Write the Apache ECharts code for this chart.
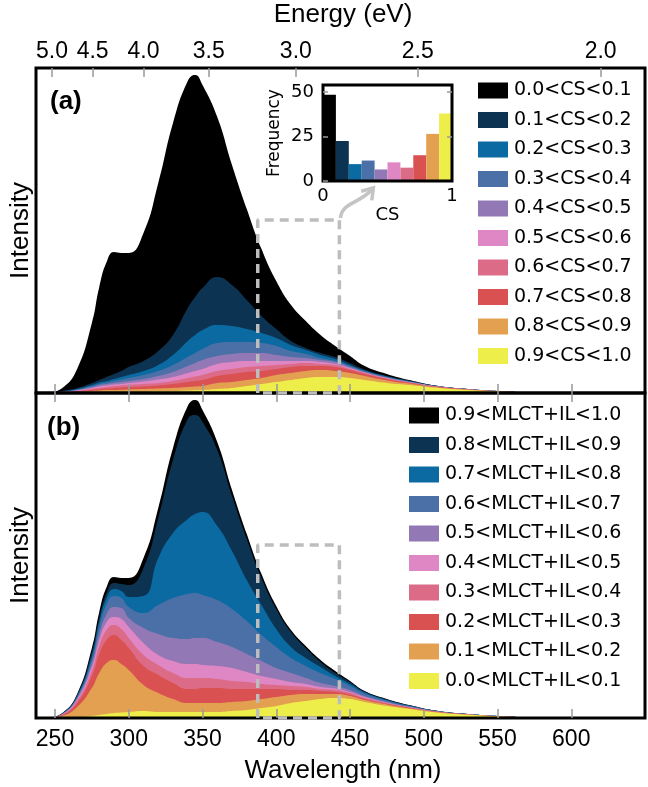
<!DOCTYPE html>
<html><head><meta charset="utf-8">
<script src="https://cdn.jsdelivr.net/npm/echarts@6/dist/echarts.min.js"></script>
<style>html,body{margin:0;padding:0;background:#fff}#c{width:648px;height:787px}</style>
</head><body><div id="c"></div>
<script>
// ---------------- data ----------------
const wavelengths = [245,255,265,275,280,285,290,295,300,310,320,330,340,345,350,360,370,380,390,400,410,420,430,440,450,460,475,490,510,530,550,575,600];

// Panel (a): upper boundary of each stacked band
const aTop00 = [0,5,24,70,106,131,141,140,140,160,210,270,312,318,308,276,228,184,144,112,88,72,58,47,37,27,19,13,7,4,2,0.5,0];
const aTop01 = [0,2,5,10,13,16,19,22,26,32,42,58,85,96,105,116,108,93,77,64,52,45,40,36,30,23.5,17,12.5,6.9,3.9,1.98,0.48,0];
const aTop02 = [0,1.6,4,8,10.5,12,14,16,18,22,28,38,52,58,63,68,67,64,60,55,48,43,38,34,28,22.5,16.5,12,6.7,3.85,1.96,0.47,0];
const aTop03 = [0,1.4,3.5,7,9,10.5,12,13.5,15,18,22,28,36,40,44,50,51,51,50,47,42,39,35,32,27,22,16,11.6,6.6,3.8,1.94,0.46,0];
const aTop04 = [0,1.2,3,6,8,9,10,11,12,14,17,21,27,30,33,37,39,40,40,38,36,35,33,31,26,21,15.5,11.3,6.5,3.75,1.92,0.45,0];
const aTop05 = [0,1,2.5,5,6.5,7.5,8.5,9,10,11.5,13.5,16,20,22,24,29,31,32,32,32,32,32,31,29,25,20.5,15,11,6.4,3.7,1.9,0.44,0];
const aTop06 = [0,0.8,2,4,5,6,7,7.5,8,9,10,12,15,16.5,18,22,24,26,27,28,29,30,29,28,24,20,14.5,10.7,6.2,3.6,1.85,0.43,0];
const aTop07 = [0,0.6,1.5,3,4,4.5,5,5.5,6,6.5,7.5,9,11,12,13,17,19,21,22,24,26,27,27,26,23,19,14,10.3,6,3.5,1.8,0.42,0];
const aTop08 = [0,0.4,1,2,2.5,3,3,3.2,3.5,4,4.5,5,6,6.5,7,10,11,13,15,18,20,22,23,22,20,17,12.5,9.5,5.6,3.3,1.75,0.41,0];
const aTop09 = [0,0.2,0.5,1,1,1,1.2,1.3,1.5,1.5,2,2,2.5,2.8,3,4,5,7,9,11,13,15,16,16,15,13,10,8,5,3,1.6,0.4,0];

// Panel (b): upper boundary of each stacked band
const bTop09 = [0,5,24,70,106,131,141,140,140,160,210,270,312,318,308,276,228,184,144,112,88,72,58,47,37,27,19,13,7,4,2,0.5,0];
const bTop08 = [0,4.8,23,66,100,125,135,134,133,150,200,258,299,303,296,268,222,179,140,109,86,70,56,45,36,26.5,18.6,12.8,6.9,3.95,1.98,0.48,0];
const bTop07 = [0,4.6,22,62,96,120,129,127,121,122,160,185,199,204,206,192,167,138,113,89,71,60,51,42,34,25.5,18,12.4,6.8,3.9,1.95,0.47,0];
const bTop06 = [0,4.4,21,59,91,114,122,120,111,105,113,120,124,125,123,118,109,97,83,71,60,52,45,39,32,24.5,17.3,12,6.6,3.8,1.9,0.46,0];
const bTop05 = [0,4.1,20,55,84,104,111,110,100,90,84,80,79,80,80,76,71,64,57,50,45,40,35,32,28,22,16,11.4,6.4,3.7,1.85,0.45,0];
const bTop04 = [0,3.8,18.5,51,78,96,101,99,91,75,63,57,54,54,53,52,50,46,42,39,36,34,31,29.5,26,21,15.3,11,6.2,3.65,1.82,0.44,0];
const bTop03 = [0,3.5,17,47,72,88,93,89,80,63,53,45,40,40,40,39,37,36,34,33,32,31,29,28,25,20,14.8,10.7,6.1,3.6,1.8,0.43,0];
const bTop02 = [0,3,15,42,64,78,83,78,70,52,43,35,29,29,30,30,29,29,29,29,28,28,27,26,23.5,19,14.2,10.3,5.9,3.5,1.75,0.42,0];
const bTop01 = [0,2.2,11,30,45,55,58,54,48,33,25,19,15,15,15,15,16,17,19,21,23,24,24,24,22,18,13.5,9.8,5.7,3.4,1.7,0.41,0];
const bTop00 = [0,0.2,0.8,2,3,4,5,5.5,6,7,6,6,6,6,6,6,7,8,10,12,15,17,19,20,19,16,12,9,5.3,3.2,1.6,0.4,0];

const csNames = ['0.0<CS<0.1','0.1<CS<0.2','0.2<CS<0.3','0.3<CS<0.4','0.4<CS<0.5','0.5<CS<0.6','0.6<CS<0.7','0.7<CS<0.8','0.8<CS<0.9','0.9<CS<1.0'];
const mlctNames = ['0.9<MLCT+IL<1.0','0.8<MLCT+IL<0.9','0.7<MLCT+IL<0.8','0.6<MLCT+IL<0.7','0.5<MLCT+IL<0.6','0.4<MLCT+IL<0.5','0.3<MLCT+IL<0.4','0.2<MLCT+IL<0.3','0.1<MLCT+IL<0.2','0.0<MLCT+IL<0.1'];
const colors = ['#000000','#0c3351','#0b6aa1','#4a70a7','#9279b5','#df87c4','#db6b87','#d95251','#e4a051','#eeee4a'];

// inset histogram
const histBins = ['0.0-0.1','0.1-0.2','0.2-0.3','0.3-0.4','0.4-0.5','0.5-0.6','0.6-0.7','0.7-0.8','0.8-0.9','0.9-1.0'];
const histFreq = [48.5,22.5,9.5,11.5,6.5,10.5,7.5,14.5,26.5,38];

// ticks
const wlTicks = [250,300,350,400,450,500,550,600];
const energyTicks = [5.0,4.5,4.0,3.5,3.0,2.5,2.0];
const HC = 1239.84;
const boxEnergy = [3.2, 2.8];
const boxTop = 173;

// ---------------- layout ----------------
const GA = {left:36, top:68, width:609, height:325};
const GB = {left:36, top:393, width:609, height:325};
const GI = {left:323, top:85, width:129, height:96};
const XMIN = 240.5, XMAX = 650, YMAX = 325;
const mainFont = 'Liberation Sans';
const insetFont = 'DejaVu Sans';
const tickGray = '#999999';

const aTops = [aTop00,aTop01,aTop02,aTop03,aTop04,aTop05,aTop06,aTop07,aTop08,aTop09];
const bTops = [bTop09,bTop08,bTop07,bTop06,bTop05,bTop04,bTop03,bTop02,bTop01,bTop00];

function pairs(arr){ return wavelengths.map((w,i)=>[w,arr[i]]); }
function areaSeries(name, arr, color, xi, yi){
  return {name, type:'line', xAxisIndex:xi, yAxisIndex:yi, data:pairs(arr), smooth:0.5,
    showSymbol:false, symbol:'none', lineStyle:{width:0, color}, itemStyle:{color}, areaStyle:{color, opacity:1}, silent:true, z:2};
}
const series = [];
aTops.forEach((arr,i)=>series.push(areaSeries(csNames[i], arr, colors[i], 0, 0)));
bTops.forEach((arr,i)=>series.push(areaSeries(mlctNames[i], arr, colors[i], 2, 1)));

const boxLo = HC/boxEnergy[0], boxHi = HC/boxEnergy[1];
const boxData = [[boxLo,0],[boxLo,boxTop],[boxHi,boxTop],[boxHi,0],[boxLo,0]];
function boxSeries(xi, yi){
  return {type:'line', xAxisIndex:xi, yAxisIndex:yi, data:boxData, symbol:'none', silent:true, z:60,
    lineStyle:{color:'#bdbdbd', width:3.5, type:[9,6]}};
}
series.push(boxSeries(0,0));
series.push(boxSeries(2,1));

series.push({type:'bar', xAxisIndex:4, yAxisIndex:2, barCategoryGap:0, silent:true, z:3,
  data: histFreq.map((v,i)=>({value:v, itemStyle:{color:colors[i]}}))});

function tickAxis(gridIndex, position, opts){
  return Object.assign({type:'value', gridIndex, position, min:XMIN, max:XMAX, z:55,
    axisLine:{show:false}, splitLine:{show:false},
    axisTick:{show:true, inside:true, length:9, customValues:wlTicks, lineStyle:{color:tickGray, width:1.5}},
    axisLabel:{show:false}}, opts||{});
}

const xAxes = [
  tickAxis(0,'bottom'),
  tickAxis(0,'top',{
    axisTick:{show:true, inside:true, length:9, customValues:energyTicks.map(e=>HC/e), lineStyle:{color:tickGray, width:1.5}},
    axisLabel:{show:true, customValues:energyTicks.map(e=>HC/e), formatter:v=>(HC/v).toFixed(1), fontSize:23, fontFamily:mainFont, color:'#000', margin:5},
    name:'Energy (eV)', nameLocation:'middle', nameGap:40, nameTextStyle:{fontSize:26, fontFamily:mainFont, color:'#000'}
  }),
  tickAxis(1,'bottom',{
    axisLabel:{show:true, customValues:wlTicks, fontSize:23, fontFamily:mainFont, color:'#000', margin:10},
    name:'Wavelength (nm)', nameLocation:'middle', nameGap:40, nameTextStyle:{fontSize:26, fontFamily:mainFont, color:'#000'}
  }),
  tickAxis(1,'top'),
  {type:'category', gridIndex:2, position:'top', data:histBins, show:false, boundaryGap:true},
  {type:'value', gridIndex:2, position:'bottom', min:0, max:1, axisLine:{show:false}, axisTick:{show:false}, splitLine:{show:false},
    axisLabel:{customValues:[0,1], fontSize:18, fontFamily:insetFont, color:'#000', margin:6},
    name:'CS', nameLocation:'middle', nameGap:16, nameTextStyle:{fontSize:18, fontFamily:insetFont, color:'#000'}}
];

function mainY(gridIndex){
  return {type:'value', gridIndex, min:0, max:YMAX, axisLine:{show:false}, axisTick:{show:false}, axisLabel:{show:false}, splitLine:{show:false},
    name:'Intensity', nameLocation:'middle', nameGap:7, nameTextStyle:{fontSize:26, fontFamily:mainFont, color:'#000'}};
}
const yAxes = [
  mainY(0), mainY(1),
  {type:'value', gridIndex:2, min:0, max:54, axisLine:{show:false}, splitLine:{show:false}, z:55,
    axisTick:{show:true, inside:true, length:5, customValues:[0,25,50], lineStyle:{color:tickGray, width:1.5}},
    axisLabel:{customValues:[0,25,50], fontSize:18, fontFamily:insetFont, color:'#000', margin:9},
    name:'Frequency', nameLocation:'middle', nameGap:40, nameTextStyle:{fontSize:17, fontFamily:insetFont, color:'#000'}},
  {type:'value', gridIndex:2, position:'right', min:0, max:54, axisLine:{show:false}, splitLine:{show:false}, z:55,
    axisTick:{show:true, inside:true, length:5, customValues:[25,50], lineStyle:{color:tickGray, width:1.5}},
    axisLabel:{show:false}}
];

function legend(names, left, top){
  return {data:names, orient:'vertical', left, top, padding:0, itemWidth:30, itemHeight:16, itemGap:10.5,
    icon:'rect', selectedMode:false, textStyle:{fontSize:19, fontFamily:insetFont, color:'#000', padding:[0,0,0,1]}};
}

const option = {
  animation:false,
  backgroundColor:'#fff',
  grid:[GA, GB, GI].map(g=>Object.assign({containLabel:false, show:false}, g)),
  xAxis:xAxes,
  yAxis:yAxes,
  legend:[legend(csNames, 478, 81), legend(mlctNames, 409, 406)],
  series
};

const chart = echarts.init(document.getElementById('c'), null, {renderer:'canvas'});
chart.setOption(option);

// frames, panel labels, arrow
function frame(g){ return {type:'rect', shape:{x:g.left, y:g.top, width:g.width, height:g.height}, style:{fill:null, stroke:'#000', lineWidth:3}, z:50, silent:true}; }
const corner = chart.convertToPixel({gridIndex:0}, [boxHi, boxTop]);
const p0 = [corner[0]+1, corner[1]-2];
const p3 = [corner[0]+33, corner[1]-31];
const c1 = [corner[0]+3, corner[1]-18];
const c2 = [corner[0]+20, corner[1]-16];
const dir = [p3[0]-c2[0], p3[1]-c2[1]];
const dl = Math.hypot(dir[0],dir[1]); const u=[dir[0]/dl, dir[1]/dl]; const n=[-u[1], u[0]];
const head = [[p3[0]-9*u[0]+7*n[0], p3[1]-9*u[1]+7*n[1]], [p3[0]+1.5*u[0], p3[1]+1.5*u[1]], [p3[0]-9*u[0]-7*n[0], p3[1]-9*u[1]-7*n[1]]];

chart.setOption({graphic:[
  frame(GA), frame(GB), frame(GI),
  {type:'text', x:50, y:89, z:50, style:{text:'(a)', fontSize:26, fontWeight:'bold', fontFamily:mainFont, fill:'#000'}},
  {type:'text', x:47, y:415, z:50, style:{text:'(b)', fontSize:26, fontWeight:'bold', fontFamily:mainFont, fill:'#000'}},
  {type:'bezierCurve', z:60, silent:true, shape:{x1:p0[0], y1:p0[1], cpx1:c1[0], cpy1:c1[1], cpx2:c2[0], cpy2:c2[1], x2:p3[0], y2:p3[1]}, style:{stroke:'#c4c4c4', lineWidth:3.5, fill:null}},
  {type:'polyline', z:60, silent:true, shape:{points:head}, style:{stroke:'#c4c4c4', lineWidth:3.5, fill:null}}
]});
</script></body></html>
